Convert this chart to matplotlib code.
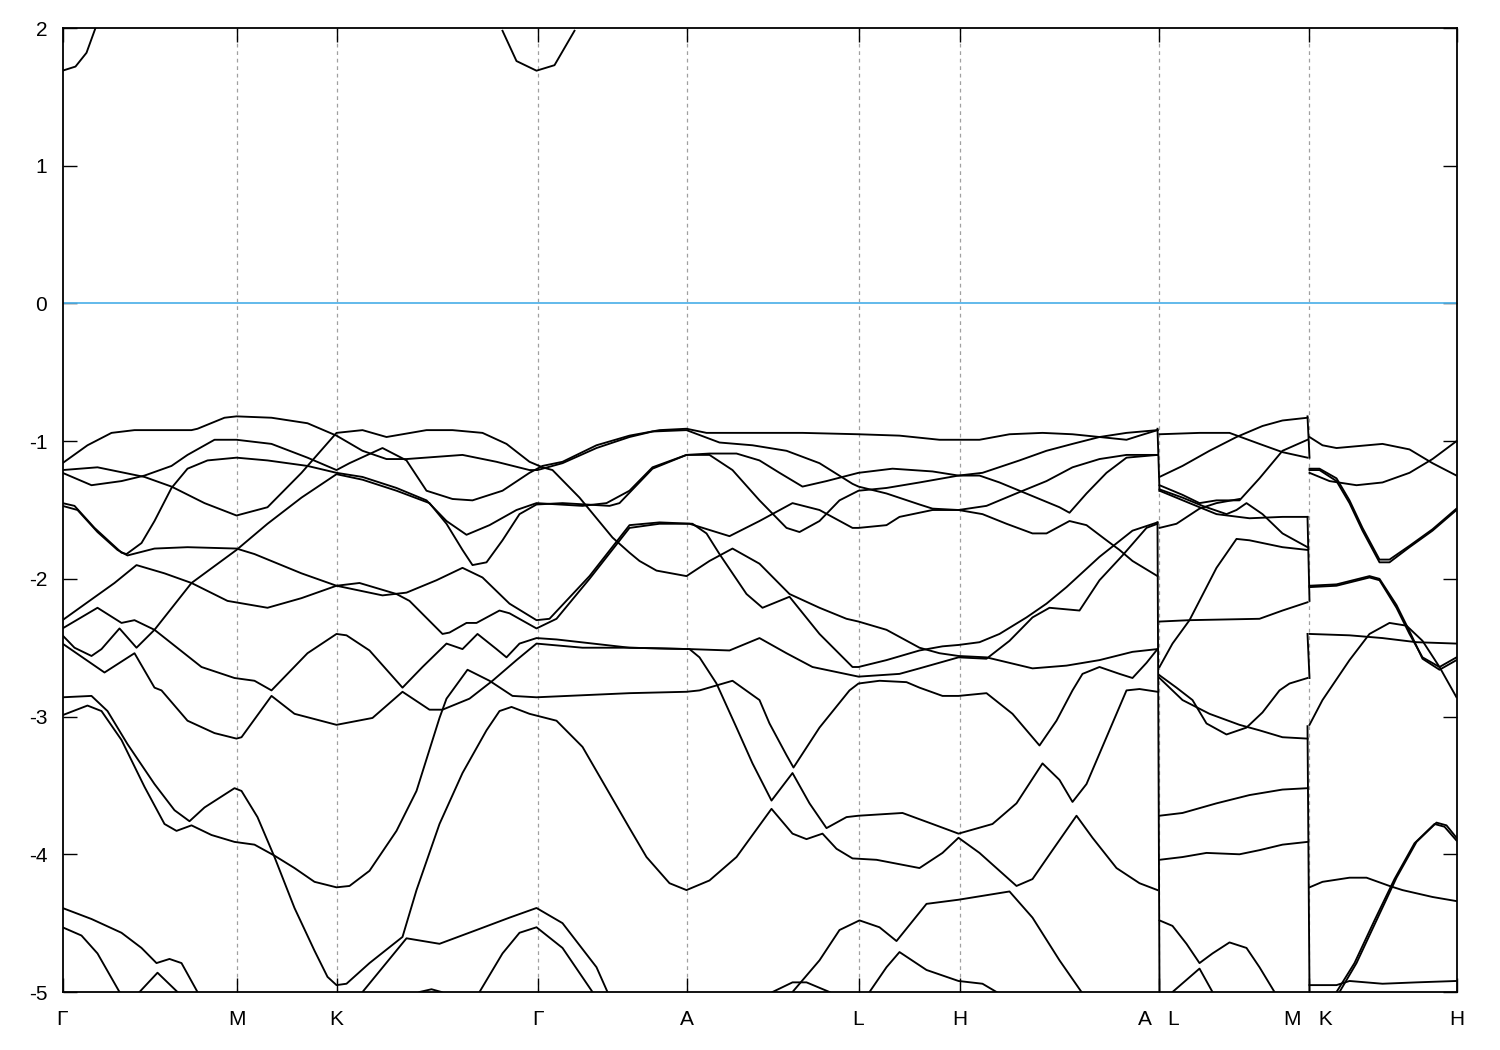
import matplotlib
matplotlib.use("Agg")
import matplotlib.pyplot as plt

plt.rcParams['font.family'] = ['Liberation Sans', 'DejaVu Sans']

# ---- high-symmetry path ----
tick_k = [0.00, 1.74, 2.74, 4.75, 6.24, 7.96, 8.97, 10.96, 12.46, 13.94]
tick_labels = ["Γ", "M", "K", "Γ", "A", "L", "H", "A   L", "M   K", "H"]
A_END, L_START = 10.95, 10.97
M_END, K_START = 12.45, 12.47
E_MIN, E_MAX = -5.0, 2.0

# energy ranges covered by the connecting lines at the path breaks (A|L and M|K)
jump_AL = [(-0.91, -1.36), (-1.59, -5.00)]
jump_MK = [(-0.82, -1.12), (-1.55, -2.16), (-2.40, -2.72), (-3.07, -5.00)]

# ---- bands on Γ-M-K-Γ-A-L-H-A (k, E in eV) ----
top_g1 = [(0.00, 1.69), (0.13, 1.72), (0.24, 1.82), (0.33, 2.00)]
top_g2 = [(4.40, 1.98), (4.54, 1.76), (4.74, 1.69), (4.92, 1.73), (5.12, 1.98)]

band_t1 = [(0.00,-1.16),(0.25,-1.03),(0.49,-0.94),(0.72,-0.92),(1.29,-0.92),(1.35,-0.91),(1.62,-0.83),
           (1.74,-0.82),(2.09,-0.83),(2.45,-0.87),(2.74,-0.96),(3.00,-1.07),(3.24,-1.13),(3.44,-1.13),
           (4.00,-1.10),(4.34,-1.15),(4.67,-1.21),(4.75,-1.21),(5.00,-1.16),(5.34,-1.05),(5.67,-0.97),
           (5.90,-0.93),(6.24,-0.92),(6.57,-1.01),(6.90,-1.03),(7.24,-1.07),(7.57,-1.16),(7.90,-1.31),
           (7.96,-1.33),(8.24,-1.38),(8.57,-1.46),(8.70,-1.49),(8.96,-1.50),(9.24,-1.47),(9.57,-1.37),
           (9.84,-1.29),(10.10,-1.19),(10.37,-1.13),(10.64,-1.10),(10.95,-1.10)]

band_b2 = [(0.00,-1.21),(0.35,-1.19),(0.82,-1.26),(1.09,-1.33),(1.42,-1.45),(1.74,-1.54),(2.05,-1.48),
           (2.39,-1.23),(2.74,-0.94),(3.00,-0.92),(3.24,-0.97),(3.64,-0.92),(3.90,-0.92),(4.20,-0.94),
           (4.44,-1.02),(4.67,-1.15),(4.80,-1.19),(4.90,-1.21),(5.17,-1.41),(5.50,-1.70),(5.67,-1.81),
           (5.77,-1.87),(5.94,-1.94),(6.24,-1.98),(6.47,-1.87),(6.70,-1.78),(6.97,-1.89),(7.27,-2.11),
           (7.57,-2.21),(7.84,-2.29),(7.96,-2.31),(8.24,-2.37),(8.57,-2.50),(8.77,-2.54),(8.96,-2.56),
           (9.24,-2.57),(9.47,-2.61),(9.70,-2.65),(10.04,-2.63),(10.37,-2.59),(10.70,-2.53),(10.95,-2.51)]

band_b3 = [(0.00,-1.23),(0.29,-1.32),(0.59,-1.29),(0.82,-1.25),(1.09,-1.18),(1.25,-1.10),(1.52,-0.99),
           (1.74,-0.99),(2.09,-1.02),(2.45,-1.12),(2.74,-1.21),(2.87,-1.16),(3.20,-1.05),(3.44,-1.14),
           (3.64,-1.36),(3.90,-1.42),(4.10,-1.43),(4.40,-1.36),(4.67,-1.23),(4.80,-1.18),(5.00,-1.15),
           (5.34,-1.03),(5.67,-0.96),(5.97,-0.92),(6.24,-0.91),(6.44,-0.94),(6.67,-0.94),(7.04,-0.94),
           (7.40,-0.94),(7.96,-0.95),(8.37,-0.96),(8.77,-0.99),(8.96,-0.99),(9.17,-0.99),(9.47,-0.95),
           (9.80,-0.94),(10.10,-0.95),(10.37,-0.97),(10.64,-0.99),(10.77,-0.96),(10.95,-0.92)]

band_b4 = [(0.00,-1.45),(0.12,-1.47),(0.32,-1.63),(0.59,-1.81),(0.64,-1.82),(0.79,-1.74),(0.92,-1.58),
           (1.09,-1.34),(1.25,-1.20),(1.45,-1.14),(1.74,-1.12),(2.05,-1.14),(2.45,-1.18),(2.74,-1.23),
           (3.00,-1.26),(3.34,-1.34),(3.64,-1.43),(3.84,-1.58),(4.04,-1.68),(4.27,-1.61),(4.54,-1.50),
           (4.74,-1.45),(5.20,-1.47),(5.44,-1.45),(5.67,-1.36),(5.90,-1.19),(6.24,-1.10),(6.47,-1.09),
           (6.74,-1.09),(6.97,-1.14),(7.17,-1.23),(7.40,-1.33),(7.64,-1.29),(7.96,-1.23),(8.30,-1.20),
           (8.70,-1.22),(8.96,-1.25),(9.17,-1.25),(9.37,-1.30),(9.57,-1.36),(9.77,-1.42),(9.97,-1.48),
           (10.07,-1.52),(10.24,-1.38),(10.44,-1.23),(10.64,-1.12),(10.95,-1.10)]

band_b5 = [(0.00,-2.41),(0.12,-2.50),(0.29,-2.56),(0.39,-2.51),(0.57,-2.36),(0.74,-2.50),(0.92,-2.37),
           (1.29,-2.03),(1.74,-1.79),(2.05,-1.60),(2.39,-1.41),(2.74,-1.24),(3.00,-1.28),(3.34,-1.36),
           (3.67,-1.45),(3.84,-1.60),(4.00,-1.79),(4.10,-1.90),(4.24,-1.88),(4.40,-1.72),(4.57,-1.53),
           (4.74,-1.46),(5.00,-1.45),(5.47,-1.47),(5.57,-1.45),(5.90,-1.20),(6.24,-1.10),(6.47,-1.10),
           (6.70,-1.21),(6.97,-1.43),(7.24,-1.63),(7.37,-1.66),(7.57,-1.58),(7.77,-1.43),(7.96,-1.36),
           (8.24,-1.34),(8.57,-1.30),(8.96,-1.25),(9.20,-1.23),(9.57,-1.14),(9.84,-1.07),(10.10,-1.02),
           (10.37,-0.97),(10.64,-0.94),(10.95,-0.92)]

band_b6 = [(0.00,-2.30),(0.25,-2.17),(0.52,-2.03),(0.74,-1.90),(1.02,-1.96),(1.29,-2.03),(1.65,-2.16),
           (2.05,-2.21),(2.39,-2.14),(2.74,-2.05),(2.97,-2.03),(3.34,-2.11),(3.47,-2.16),(3.80,-2.40),
           (3.87,-2.39),(4.04,-2.32),(4.14,-2.32),(4.37,-2.23),(4.47,-2.25),(4.74,-2.36),(4.94,-2.29),
           (5.27,-2.00),(5.67,-1.63),(5.97,-1.60),(6.27,-1.60),(6.67,-1.69),(6.97,-1.58),(7.30,-1.45),
           (7.57,-1.50),(7.90,-1.63),(7.96,-1.63),(8.24,-1.61),(8.37,-1.55),(8.70,-1.50),(8.96,-1.50),
           (9.20,-1.53),(9.44,-1.60),(9.70,-1.67),(9.84,-1.67),(10.07,-1.58),(10.24,-1.61),(10.44,-1.72),
           (10.57,-1.79),(10.70,-1.87),(10.95,-1.98)]

band_b7 = [(0.00,-1.47),(0.15,-1.50),(0.35,-1.66),(0.55,-1.79),(0.65,-1.83),(0.92,-1.78),(1.25,-1.77),
           (1.74,-1.78),(1.92,-1.82),(2.39,-1.96),(2.74,-2.05),(3.20,-2.12),(3.44,-2.10),(3.74,-2.01),
           (4.00,-1.92),(4.20,-1.99),(4.47,-2.18),(4.74,-2.30),(4.87,-2.29),(5.27,-1.98),(5.67,-1.61),
           (5.97,-1.59),(6.30,-1.60),(6.44,-1.67),(6.57,-1.82),(6.84,-2.11),(7.00,-2.21),(7.27,-2.13),
           (7.57,-2.40),(7.90,-2.64),(7.96,-2.64),(8.24,-2.59),(8.57,-2.52),(8.80,-2.49),(8.96,-2.48),
           (9.17,-2.46),(9.37,-2.40),(9.64,-2.28),(9.84,-2.18),(10.04,-2.06),(10.37,-1.84),(10.70,-1.65),
           (10.95,-1.59)]

band_b8 = [(0.00,-2.36),(0.35,-2.21),(0.59,-2.32),(0.72,-2.30),(0.92,-2.37),(1.39,-2.64),(1.72,-2.72),
           (1.92,-2.74),(2.09,-2.81),(2.45,-2.54),(2.74,-2.40),(2.84,-2.41),(3.07,-2.52),(3.40,-2.79),
           (3.60,-2.64),(3.84,-2.47),(4.00,-2.51),(4.15,-2.40),(4.34,-2.51),(4.44,-2.57),(4.57,-2.47),
           (4.74,-2.43),(4.94,-2.44),(5.67,-2.50),(6.27,-2.51),(6.67,-2.52),(6.97,-2.43),(7.24,-2.54),
           (7.50,-2.64),(7.96,-2.71),(8.37,-2.69),(8.57,-2.65),(8.96,-2.57),(9.24,-2.58),(9.47,-2.45),
           (9.70,-2.28),(9.87,-2.21),(10.17,-2.23),(10.37,-2.01),(10.60,-1.83),(10.84,-1.63),(10.95,-1.60)]

band_b9 = [(0.00,-2.47),(0.42,-2.68),(0.72,-2.54),(0.92,-2.79),(0.99,-2.81),(1.25,-3.03),(1.52,-3.12),
           (1.74,-3.16),(1.79,-3.15),(2.09,-2.85),(2.32,-2.98),(2.74,-3.06),(3.10,-3.01),(3.40,-2.82),
           (3.67,-2.95),(3.80,-2.95),(4.07,-2.87),(4.30,-2.74),(4.54,-2.59),(4.74,-2.47),(5.20,-2.50),
           (5.67,-2.50),(6.27,-2.51),(6.37,-2.57),(6.54,-2.76),(6.74,-3.08),(6.90,-3.34),(7.09,-3.61),
           (7.30,-3.41),(7.47,-3.63),(7.64,-3.81),(7.84,-3.73),(7.96,-3.72),(8.40,-3.70),(8.70,-3.78),
           (8.96,-3.85),(9.30,-3.78),(9.54,-3.63),(9.80,-3.34),(9.97,-3.46),(10.10,-3.62),(10.24,-3.49),
           (10.44,-3.15),(10.64,-2.81),(10.77,-2.80),(10.95,-2.82)]

band_b10 = [(0.00,-2.99),(0.25,-2.92),(0.39,-2.96),(0.59,-3.17),(0.82,-3.51),(1.02,-3.78),(1.14,-3.83),
            (1.29,-3.79),(1.49,-3.86),(1.72,-3.91),(1.92,-3.93),(2.12,-4.01),(2.32,-4.10),(2.52,-4.20),
            (2.74,-4.24),(2.87,-4.23),(3.07,-4.12),(3.34,-3.83),(3.54,-3.54),(3.77,-3.01),(3.84,-2.87),
            (4.05,-2.66),(4.27,-2.74),(4.50,-2.85),(4.74,-2.86),(5.67,-2.83),(6.24,-2.82),(6.37,-2.81),
            (6.70,-2.74),(6.97,-2.88),(7.07,-3.05),(7.24,-3.28),(7.31,-3.37),(7.57,-3.08),(7.87,-2.81),
            (7.96,-2.76),(8.17,-2.74),(8.44,-2.75),(8.57,-2.79),(8.80,-2.85),(8.96,-2.85),(9.24,-2.83),
            (9.50,-2.98),(9.77,-3.21),(9.94,-3.03),(10.10,-2.81),(10.20,-2.69),(10.37,-2.64),(10.57,-2.69),
            (10.70,-2.72),(10.84,-2.61),(10.95,-2.51)]

band_b11 = [(0.00,-2.86),(0.29,-2.85),(0.45,-2.96),(0.65,-3.20),(0.92,-3.49),(1.12,-3.68),(1.27,-3.76),
            (1.42,-3.66),(1.72,-3.52),(1.79,-3.54),(1.95,-3.73),(2.12,-4.02),(2.32,-4.39),(2.52,-4.70),
            (2.65,-4.89),(2.74,-4.95),(2.84,-4.94),(3.07,-4.79),(3.40,-4.60),(3.54,-4.26),(3.77,-3.78),
            (4.00,-3.41),(4.24,-3.10),(4.37,-2.96),(4.49,-2.93),(4.67,-2.98),(4.94,-3.03),(5.20,-3.22),
            (5.67,-3.81),(5.84,-4.02),(6.07,-4.21),(6.24,-4.26),(6.47,-4.19),(6.74,-4.02),(7.09,-3.67),
            (7.30,-3.85),(7.44,-3.89),(7.60,-3.85),(7.74,-3.96),(7.90,-4.03),(8.14,-4.04),(8.57,-4.10),
            (8.80,-3.99),(8.96,-3.88),(9.17,-3.99),(9.54,-4.23),(9.70,-4.18),(9.90,-3.97),(10.14,-3.72),
            (10.30,-3.88),(10.54,-4.10),(10.77,-4.21),(10.95,-4.26)]

band_b12a = [(0.00,-4.39),(0.29,-4.47),(0.59,-4.57),(0.79,-4.68),(0.94,-4.79),(1.07,-4.76),(1.19,-4.79),(1.35,-5.00)]
band_b12b = [(3.00,-5.00),(3.44,-4.61),(3.77,-4.65),(4.14,-4.55),(4.47,-4.46),(4.74,-4.39),(5.00,-4.50),(5.34,-4.82),(5.45,-5.00)]
band_b13a = [(0.00,-4.53),(0.19,-4.59),(0.35,-4.72),(0.57,-5.00)]
band_b13b = [(0.77,-5.00),(0.95,-4.86),(1.15,-5.00)]
band_b13c = [(4.17,-5.00),(4.40,-4.72),(4.57,-4.57),(4.74,-4.53),(5.00,-4.68),(5.30,-5.00)]
band_b14 = [(3.57,-5.00),(3.69,-4.98),(3.79,-5.00)]
band_bl1 = [(7.10,-5.00),(7.30,-4.93),(7.44,-4.93),(7.67,-5.00)]
band_bl2 = [(7.30,-5.00),(7.57,-4.77),(7.77,-4.55),(7.97,-4.48),(8.17,-4.53),(8.34,-4.63),(8.64,-4.36),
            (8.96,-4.33),(9.47,-4.27),(9.70,-4.46),(9.97,-4.77),(10.19,-5.00)]
band_bl3 = [(8.07,-5.00),(8.24,-4.82),(8.37,-4.71),(8.64,-4.84),(8.96,-4.92),(9.20,-4.94),(9.34,-5.00)]

# ---- bands on L-M ----
band_lm1 = [(10.97,-0.95),(11.37,-0.94),(11.67,-0.94),(11.97,-1.02),(12.20,-1.08),(12.45,-1.12)]
band_lm2 = [(10.97,-1.26),(11.20,-1.18),(11.47,-1.07),(11.74,-0.97),(12.00,-0.89),(12.20,-0.85),(12.45,-0.83)]
band_lm3 = [(10.97,-1.32),(11.20,-1.39),(11.37,-1.45),(11.54,-1.43),(11.77,-1.43),(11.97,-1.27),(12.20,-1.07),(12.45,-0.99)]
band_lm4 = [(10.97,-1.35),(11.20,-1.41),(11.40,-1.47),(11.64,-1.53),(11.74,-1.50),(11.84,-1.45),(12.00,-1.53),
            (12.20,-1.67),(12.45,-1.77)]
band_lm5 = [(10.97,-1.36),(11.27,-1.45),(11.54,-1.53),(11.87,-1.56),(12.20,-1.55),(12.45,-1.55)]
band_lm6 = [(10.97,-1.63),(11.14,-1.60),(11.37,-1.49),(11.54,-1.45),(11.77,-1.42)]
band_lm7 = [(10.97,-2.31),(11.27,-2.30),(11.97,-2.29),(12.20,-2.23),(12.45,-2.17)]
band_lm8 = [(10.97,-2.64),(11.10,-2.47),(11.27,-2.30),(11.54,-1.92),(11.74,-1.71),(11.87,-1.72),(12.20,-1.77),(12.45,-1.79)]
band_lm9 = [(10.97,-2.70),(11.14,-2.79),(11.30,-2.88),(11.44,-3.05),(11.64,-3.13),(11.84,-3.08),(12.00,-2.97),
            (12.17,-2.81),(12.27,-2.76),(12.45,-2.72)]
band_lm10 = [(10.97,-2.72),(11.20,-2.88),(11.47,-2.98),(11.77,-3.06),(11.97,-3.10),(12.20,-3.15),(12.45,-3.16)]
band_lm11 = [(10.97,-3.72),(11.20,-3.70),(11.54,-3.63),(11.87,-3.57),(12.20,-3.53),(12.45,-3.52)]
band_lm12 = [(10.97,-4.04),(11.20,-4.02),(11.44,-3.99),(11.77,-4.00),(11.97,-3.97),(12.20,-3.93),(12.45,-3.91)]
band_lm13 = [(10.97,-4.48),(11.10,-4.52),(11.24,-4.65),(11.37,-4.79),(11.50,-4.72),(11.67,-4.64),(11.84,-4.68),
             (11.97,-4.82),(12.12,-5.00)]
band_lm14 = [(11.10,-5.00),(11.37,-4.83),(11.50,-5.00)]

# ---- bands on K-H ----
band_kh1 = [(12.47,-0.97),(12.60,-1.03),(12.74,-1.05),(13.20,-1.02),(13.47,-1.06),(13.70,-1.16),(13.94,-1.25)]
band_kh2 = [(12.47,-1.23),(12.67,-1.29),(12.94,-1.32),(13.20,-1.30),(13.47,-1.23),(13.70,-1.13),(13.94,-1.00)]
band_kh3a = [(12.47,-1.21),(12.57,-1.21),(12.74,-1.29),(12.87,-1.45),(13.00,-1.65),(13.17,-1.88),(13.27,-1.88),
             (13.47,-1.77),(13.70,-1.65),(13.94,-1.50)]
band_kh3b = [(12.47,-1.20),(12.57,-1.20),(12.74,-1.27),(12.87,-1.43),(13.00,-1.63),(13.17,-1.86),(13.27,-1.86),
             (13.47,-1.76),(13.70,-1.64),(13.94,-1.49)]
band_kh4a = [(12.47,-2.06),(12.74,-2.05),(13.07,-1.99),(13.17,-2.01),(13.34,-2.21),(13.47,-2.40),(13.60,-2.57),
             (13.77,-2.64),(13.94,-2.57)]
band_kh4b = [(12.47,-2.05),(12.74,-2.04),(13.07,-1.98),(13.17,-2.00),(13.34,-2.19),(13.47,-2.38),(13.60,-2.58),
             (13.77,-2.66),(13.94,-2.59)]
band_kh5 = [(12.47,-2.40),(12.87,-2.41),(13.20,-2.43),(13.54,-2.46),(13.94,-2.47)]
band_kh6 = [(12.47,-3.06),(12.60,-2.88),(12.87,-2.59),(13.07,-2.40),(13.27,-2.32),(13.44,-2.34),(13.60,-2.45),
            (13.77,-2.64),(13.94,-2.86)]
band_kh7 = [(12.47,-4.24),(12.60,-4.20),(12.87,-4.17),(13.04,-4.17),(13.27,-4.23),(13.40,-4.26),(13.70,-4.31),(13.94,-4.34)]
band_kh8a = [(12.77,-5.00),(12.94,-4.79),(13.14,-4.48),(13.34,-4.17),(13.54,-3.91),(13.74,-3.77),(13.84,-3.79),(13.94,-3.88)]
band_kh8b = [(12.74,-5.00),(12.92,-4.79),(13.12,-4.48),(13.32,-4.18),(13.52,-3.92),(13.72,-3.78),(13.82,-3.80),(13.94,-3.90)]
band_kh9 = [(12.47,-4.95),(12.74,-4.95),(12.87,-4.92),(13.20,-4.94),(13.54,-4.93),(13.94,-4.92)]

seg_main = [top_g1, top_g2, band_t1, band_b2, band_b3, band_b4, band_b5, band_b6, band_b7, band_b8,
            band_b9, band_b10, band_b11, band_b12a, band_b12b, band_b13a, band_b13b, band_b13c, band_b14,
            band_bl1, band_bl2, band_bl3]
seg_lm = [band_lm1, band_lm2, band_lm3, band_lm4, band_lm5, band_lm6, band_lm7, band_lm8, band_lm9,
          band_lm10, band_lm11, band_lm12, band_lm13, band_lm14]
seg_kh = [band_kh1, band_kh2, band_kh3a, band_kh3b, band_kh4a, band_kh4b, band_kh5, band_kh6, band_kh7,
          band_kh8a, band_kh8b, band_kh9]

LW = 1.35
fig = plt.figure(figsize=(15, 10.5), dpi=100)
ax = fig.add_axes([62.5/1500, 1-992/1050, (1456.5-62.5)/1500, (992-28)/1050])
ax.set_xlim(tick_k[0], tick_k[-1])
ax.set_ylim(E_MIN, E_MAX)

for kk in tick_k[1:-1]:
    ax.axvline(kk, color='#a0a0a0', lw=0.9, ls=(0, (3, 3)), zorder=1)
ax.axhline(0.0, color='#56b4e9', lw=1.3, zorder=2)

for seg in (seg_main, seg_lm, seg_kh):
    for b in seg:
        ks, es = zip(*b)
        ax.plot(ks, es, color='black', lw=LW, zorder=3, solid_joinstyle='round')

# connecting lines at the breaks of the path
for kl, kr, spans in ((A_END, L_START, jump_AL), (M_END, K_START, jump_MK)):
    for e_top, e_bot in spans:
        ax.plot([kl, kr], [e_top, e_bot], color='black', lw=LW, zorder=3)

ax.set_yticks(range(-5, 3))
ax.set_yticklabels([str(v) for v in range(-5, 3)])
ax.set_xticks(tick_k)
ax.set_xticklabels(tick_labels)
ax.tick_params(axis='both', direction='in', length=10, width=1.0, top=True, right=True, labelsize=15)
ax.tick_params(axis='y', pad=11)
ax.tick_params(axis='x', pad=13)
for s in ax.spines.values():
    s.set_linewidth(1.3)

fig.savefig("out.png", dpi=100)
